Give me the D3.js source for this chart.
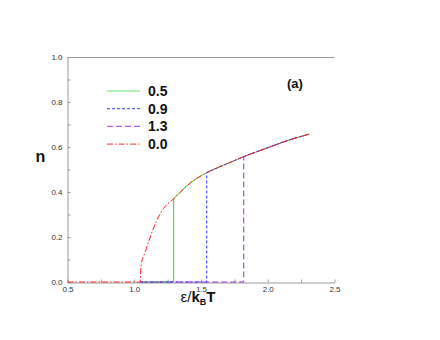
<!DOCTYPE html>
<html>
<head>
<meta charset="utf-8">
<script src="https://cdn.jsdelivr.net/npm/d3@7"></script>
<style>
  body { margin: 0; background: #fff; }
  text { font-family: "Liberation Sans", Arial, sans-serif; }
</style>
</head>
<body>
<script>
// data
var curveX = [1.045, 1.05, 1.08, 1.12, 1.17, 1.22, 1.295, 1.42, 1.543, 1.72, 1.82, 2.02, 2.14, 2.31];
var curveN = [0, 0.07, 0.13, 0.2, 0.276, 0.327, 0.37, 0.44, 0.486, 0.532, 0.557, 0.601, 0.627, 0.657];
var seriesNames = ["0.5", "0.9", "1.3", "0.0"];
var jumpX = [1.295, 1.543, 1.82, 1.045]; // where each curve leaves n = 0
var startX = [1.045, 1.045, 1.045, 0.5];
var xTicks = [0.5, 1.0, 1.5, 2.0, 2.5];
var yTicks = [0.0, 0.2, 0.4, 0.6, 0.8, 1.0];

// style
var colors = ["#33dd33", "#3030ff", "#9a2ae0", "#ff2020"];
var dashes = [null, "3,2", "6,3", "6,2,1.5,2"];

var w = 440, h = 340;
var x0 = 67.5, x1 = 334.5, y0 = 282, y1 = 57;

var svg = d3.select("body").append("svg")
  .attr("width", w)
  .attr("height", h);

var x = d3.scaleLinear().domain([0.5, 2.5]).range([x0, x1]);
var y = d3.scaleLinear().domain([0, 1]).range([y0, y1]);

var axisColor = "#999";

// top frame line
svg.append("line")
  .attr("x1", x0).attr("x2", x1).attr("y1", y1 + 0.5).attr("y2", y1 + 0.5)
  .attr("stroke", axisColor).attr("stroke-width", 1);

var gx = svg.append("g").attr("transform", "translate(0," + (y0 + 0.5) + ")");
gx.call(d3.axisBottom(x).tickValues(d3.range(0.5, 2.51, 0.25)).tickSize(-3).tickSizeOuter(0)
  .tickFormat(function(d) { return xTicks.indexOf(d) >= 0 ? d3.format(".1f")(d) : ""; }));

var gy = svg.append("g").attr("transform", "translate(" + x0 + ",0)");
gy.call(d3.axisLeft(y).tickValues(d3.range(0, 1.01, 0.1)).tickSize(-3).tickSizeOuter(0)
  .tickFormat(function(d) {
    var v = Math.round(d * 10) / 10;
    return yTicks.indexOf(v) >= 0 ? d3.format(".1f")(v) : "";
  }));

[gx, gy].forEach(function(g) {
  g.select(".domain").attr("stroke", axisColor);
  g.selectAll(".tick line").attr("stroke", axisColor);
  g.selectAll(".tick text")
    .attr("fill", "#333")
    .style("font-size", "8px")
    .style("font-family", "Liberation Sans, Arial, sans-serif");
});
gx.selectAll(".tick text").attr("dy", 0).attr("y", 9.5);
gy.selectAll(".tick text").attr("x", -5);

// each series: flat at n = 0, vertical jump, then along the curve
var linear = d3.line()
  .x(function(d) { return x(d[0]); })
  .y(function(d) { return y(d[1]); });
var smooth = d3.line()
  .x(function(d) { return x(d[0]); })
  .y(function(d) { return y(d[1]); })
  .curve(d3.curveMonotoneX);

function seriesPath(i) {
  var k0 = curveX.findIndex(function(v) { return v >= jumpX[i] - 1e-9; });
  var tail = [];
  for (var k = k0; k < curveX.length; k++) tail.push([curveX[k], curveN[k]]);
  var head = [[startX[i], 0], [jumpX[i], 0], tail[0]];
  return linear(head) + smooth(tail).replace(/^M[^LC]*/, "");
}

// red last so it sits on top like the reference
var order = [0, 1, 2, 3];
order.forEach(function(i) {
  svg.append("path")
    .attr("d", seriesPath(i))
    .attr("fill", "none")
    .attr("stroke", colors[i])
    .attr("stroke-width", 1)
    .attr("stroke-dasharray", dashes[i]);
});

// legend
var lg = svg.append("g");
seriesNames.forEach(function(name, i) {
  var ly = 91 + i * 17.7;
  lg.append("line")
    .attr("x1", 107).attr("x2", 140)
    .attr("y1", ly).attr("y2", ly)
    .attr("stroke", colors[i])
    .attr("stroke-opacity", 0.75)
    .attr("stroke-width", 1.2)
    .attr("stroke-dasharray", dashes[i]);
  lg.append("text")
    .attr("x", 148).attr("y", ly + 5)
    .style("font-size", "14px").style("font-weight", "bold")
    .attr("fill", "#111")
    .text(name);
});

// panel label
svg.append("text")
  .attr("x", 287).attr("y", 88)
  .style("font-size", "13px").style("font-weight", "bold")
  .attr("fill", "#111")
  .text("(a)");

// axis titles
svg.append("text")
  .attr("x", 40.5).attr("y", 162)
  .attr("text-anchor", "middle")
  .style("font-size", "16px").style("font-weight", "bold")
  .attr("fill", "#111")
  .text("n");

var xt = svg.append("text")
  .attr("x", 198).attr("y", 301.5)
  .attr("text-anchor", "middle")
  .attr("fill", "#111")
  .style("font-size", "15px");
xt.append("tspan").text("\u03b5/");
xt.append("tspan").style("font-weight", "bold").text("k");
xt.append("tspan").style("font-weight", "bold").style("font-size", "9px").attr("dy", 3).text("B");
xt.append("tspan").style("font-weight", "bold").attr("dy", -3).text("T");
</script>
</body>
</html>
